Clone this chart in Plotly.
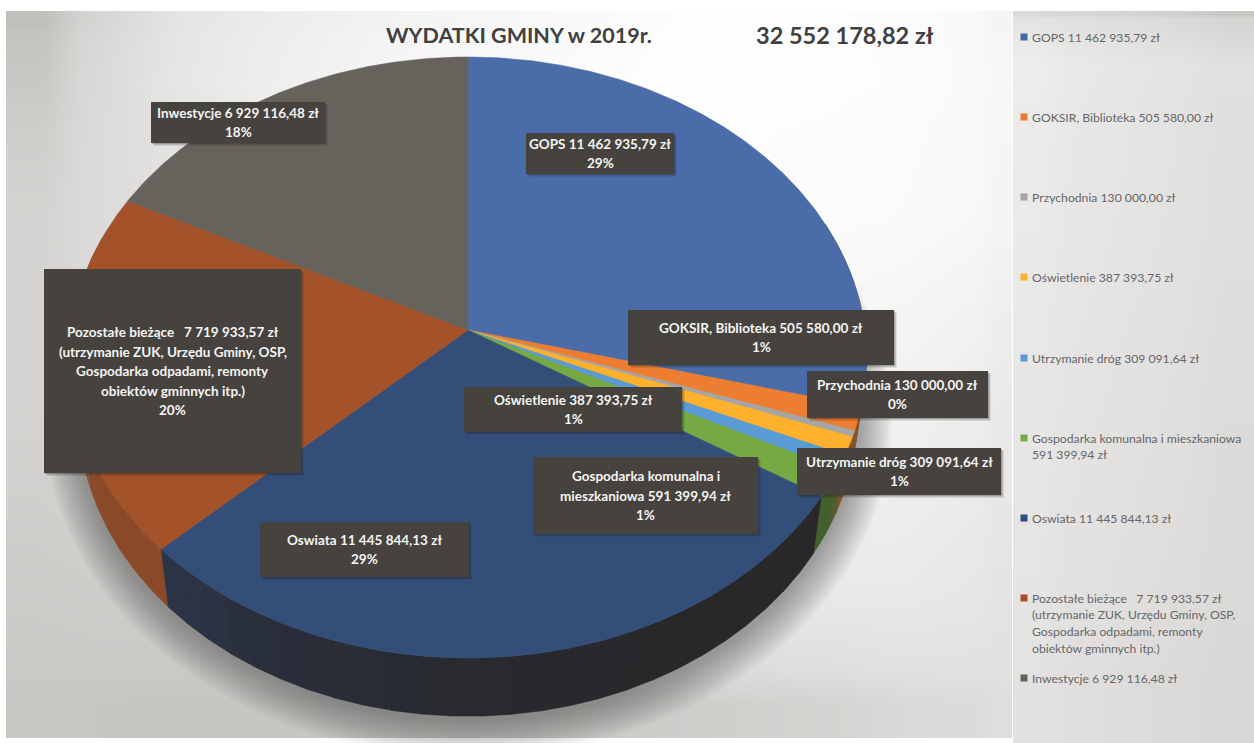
import numpy as np
import plotly.graph_objects as go

# ---- data ----
categories = ["GOPS", "GOKSIR, Biblioteka", "Przychodnia", "Oświetlenie", "Utrzymanie dróg",
              "Gospodarka komunalna i mieszkaniowa", "Oswiata", "Pozostałe bieżące", "Inwestycje"]
values = [11462935.79, 505580.00, 130000.00, 387393.75, 309091.64,
          591399.94, 11445844.13, 7719933.57, 6929116.48]
value_labels = ["11 462 935,79 zł", "505 580,00 zł", "130 000,00 zł", "387 393,75 zł", "309 091,64 zł",
                "591 399,94 zł", "11 445 844,13 zł", "7 719 933,57 zł", "6 929 116,48 zł"]
percent_labels = ["29%", "1%", "0%", "1%", "1%", "1%", "29%", "20%", "18%"]
slice_colors = ["#4a6ca9", "#ed7d31", "#a5a5a5", "#fdb12c", "#5b9bd5", "#76a843", "#344e7a", "#a4522a", "#66635c"]
wall_colors = [("#7a4a2a", "#7a4a2a"), ("#8a4f24", "#8a4f24"), ("#6f5a3a", "#6f5a3a"), ("#7c5426", "#7c5426"),
               ("#5a5a2e", "#4a5a2e"), ("#44602c", "#3f5a2c"), ("#28282a", "#2c354a"),
               ("#8a4a27", "#844727"), ("#4a4843", "#4a4843")]
legend_colors = ["#3f69a5", "#ed7d31", "#a5a5a5", "#fdb12c", "#5b9bd5", "#70ad47", "#2f4b7c", "#a9512a", "#636058"]
legend_texts = [
    "GOPS 11 462 935,79 zł", "GOKSIR, Biblioteka 505 580,00 zł", "Przychodnia 130 000,00 zł",
    "Oświetlenie 387 393,75 zł", "Utrzymanie dróg 309 091,64 zł",
    "Gospodarka komunalna i mieszkaniowa<br>591 399,94 zł", "Oswiata 11 445 844,13 zł",
    "Pozostałe bieżące   7 719 933,57 zł<br>(utrzymanie ZUK, Urzędu Gminy, OSP,<br>Gospodarka odpadami, remonty<br>obiektów gminnych itp.)",
    "Inwestycje 6 929 116,48 zł"]
box_texts = [
    "GOPS 11 462 935,79 zł<br>29%", "GOKSIR, Biblioteka 505 580,00 zł<br>1%", "Przychodnia 130 000,00 zł<br>0%",
    "Oświetlenie 387 393,75 zł<br>1%", "Utrzymanie dróg 309 091,64 zł<br>1%",
    "Gospodarka komunalna i<br>mieszkaniowa 591 399,94 zł<br>1%", "Oswiata 11 445 844,13 zł<br>29%",
    "Pozostałe bieżące   7 719 933,57 zł<br>(utrzymanie ZUK, Urzędu Gminy, OSP,<br>Gospodarka odpadami, remonty<br>obiektów gminnych itp.)<br>20%",
    "Inwestycje 6 929 116,48 zł<br>18%"]
title_left = "WYDATKI GMINY w 2019r."
title_right = "32 552 178,82 zł"

# ---- layout constants (pixels; axes run 0..1254 and 743..0) ----
W, H = 1254, 743
CX, APEX_Y, RX, RY, PERSP = 468, 330, 397, 298, 0.0915
BOTTOM_Y, BOTTOM_RX, BOTTOM_RY = 386, 388, 300
boxes = [(526, 133, 674, 174), (628, 310, 894, 365), (807, 371, 988, 418), (464, 387, 682, 432),
         (797, 448, 1001, 495), (533, 457, 758, 534), (260, 522, 469, 577), (44, 269, 301, 473), (151, 102, 325, 143)]
legend_y = [37, 117, 197, 277, 358, 438, 518, 598, 678]


def top_face(theta):
    u, v = np.sin(theta), np.cos(theta)
    d = 1 + PERSP * v
    return CX + RX * u / d, APEX_Y - RY * v / d


def bottom_face(theta, grow=0.0, shift=0.0):
    u, v = np.sin(theta), np.cos(theta)
    d = 1 + PERSP * v
    return CX + (BOTTOM_RX + grow) * u / d, BOTTOM_Y + shift - (BOTTOM_RY + grow) * v / d


def mix(c1, c2, t):
    a = [int(c1[i:i + 2], 16) for i in (1, 3, 5)]
    b = [int(c2[i:i + 2], 16) for i in (1, 3, 5)]
    return "rgb(%d,%d,%d)" % tuple(round(p + (q - p) * t) for p, q in zip(a, b))


fig = go.Figure()

# background panels: x/y are cell edges so the image stays inside the panel
bg_scale = [[0, "rgb(160,157,152)"], [1, "rgb(255,255,255)"]]
main_x = [6, 80, 270, 550, 825, 980, 1012]
main_y = [11, 35, 130, 300, 500, 670, 738]
main_z = [[186, 226, 243, 253, 252, 244],
          [196, 228, 246, 254, 252, 246],
          [208, 222, 240, 252, 250, 244],
          [208, 215, 230, 246, 240, 232],
          [200, 202, 216, 232, 232, 226],
          [194, 193, 192, 202, 214, 220]]
side_x = [1013, 1066, 1190, 1254]
side_y = [11, 18, 110, 350, 620, 743]
side_z = [[214, 208, 196], [236, 228, 222], [232, 226, 220], [228, 222, 216], [224, 218, 212]]
for x, y, z in ((main_x, main_y, main_z), (side_x, side_y, side_z)):
    fig.add_trace(go.Heatmap(x=x, y=y, z=z, zmin=150, zmax=255, colorscale=bg_scale, zsmooth="best",
                             showscale=False, hoverinfo="skip"))

# soft shadow under the pie
ring = np.linspace(0, 2 * np.pi, 241)
for grow in range(34, 0, -2):
    sx, sy = bottom_face(ring, grow=grow, shift=3)
    fig.add_trace(go.Scatter(x=sx, y=sy, mode="lines", fill="toself", line_width=0,
                             fillcolor="rgba(70,66,60,0.03)", hoverinfo="skip", showlegend=False))

# slices from the values
edges = 2 * np.pi * np.concatenate([[0], np.cumsum(values)]) / np.sum(values)

for i, name in enumerate(categories):
    a0, a1 = edges[i], edges[i + 1]
    strips = max(1, int((a1 - a0) / np.radians(4)))
    cuts = np.linspace(a0, a1, strips + 1)
    for j in range(strips):
        t = np.linspace(cuts[j], cuts[j + 1] + 0.002, 8)
        if np.cos(t).mean() > 0.35:
            continue
        tx, ty = top_face(t)
        bx, by = bottom_face(t)
        col = mix(wall_colors[i][0], wall_colors[i][1], ((j + 0.5) / strips) ** 3)
        fig.add_trace(go.Scatter(x=np.r_[tx, bx[::-1]], y=np.r_[ty, by[::-1]], mode="lines", fill="toself",
                                 fillcolor=col, line=dict(color=col, width=0.5),
                                 hoverinfo="skip", showlegend=False))

for i, name in enumerate(categories):
    t = np.linspace(edges[i], edges[i + 1], max(3, int((edges[i + 1] - edges[i]) * 120)))
    ax, ay = top_face(t)
    fig.add_trace(go.Scatter(x=np.r_[CX, ax, CX], y=np.r_[APEX_Y, ay, APEX_Y], mode="lines", fill="toself",
                             fillcolor=slice_colors[i], line=dict(color=slice_colors[i], width=0.5),
                             name=name, text=f"{name} {value_labels[i]} ({percent_labels[i]})",
                             hoverinfo="text", showlegend=False))

# legend markers
fig.add_trace(go.Scatter(x=[1024] * len(legend_y), y=legend_y, mode="markers",
                         marker=dict(symbol="square", size=7, color=legend_colors),
                         hoverinfo="skip", showlegend=False))

shapes, annotations = [], []
BOX_PITCH, LEGEND_PITCH = 19.5, 16.7
for (x0, y0, x1, y1), txt in zip(boxes, box_texts):
    for off, op in ((3, 0.10), (2, 0.14), (1, 0.2)):
        shapes.append(dict(type="rect", x0=x0 + off, y0=y0 + off, x1=x1 + off, y1=y1 + off,
                           fillcolor=f"rgba(30,30,30,{op})", line_width=0, layer="above"))
    shapes.append(dict(type="rect", x0=x0, y0=y0, x1=x1, y1=y1, fillcolor="#46433f", line_width=0, layer="above"))
    lines = txt.split("<br>")
    for k, line in enumerate(lines):
        annotations.append(dict(x=(x0 + x1) / 2, y=(y0 + y1) / 2 + (k - (len(lines) - 1) / 2) * BOX_PITCH,
                                text=f"<b>{line}</b>", showarrow=False, xanchor="center", yanchor="middle",
                                font=dict(family="Lato", size=13.5, color="#f4f4f2")))

for y, txt in zip(legend_y, legend_texts):
    for k, line in enumerate(txt.split("<br>")):
        annotations.append(dict(x=1030, y=y + k * LEGEND_PITCH, text=line, showarrow=False,
                                xanchor="left", yanchor="middle",
                                font=dict(family="Lato", size=12.2, color="#666666")))

annotations.append(dict(x=519, y=35, text=f"<b>{title_left}</b>", showarrow=False,
                        font=dict(family="Lato", size=21.5, color="#404040")))
annotations.append(dict(x=845, y=35, text=f"<b>{title_right}</b>", showarrow=False,
                        font=dict(family="Lato", size=23.5, color="#404040")))

fig.update_layout(
    width=W, height=H, margin=dict(l=0, r=0, t=0, b=0), paper_bgcolor="white", plot_bgcolor="white",
    xaxis=dict(range=[0, W], visible=False, fixedrange=True),
    yaxis=dict(range=[H, 0], visible=False, fixedrange=True),
    shapes=shapes, annotations=annotations, showlegend=False,
)
fig.write_html("out.html", config={"displayModeBar": False},
               post_script="document.body.style.margin='0';document.body.style.overflow='hidden';")
